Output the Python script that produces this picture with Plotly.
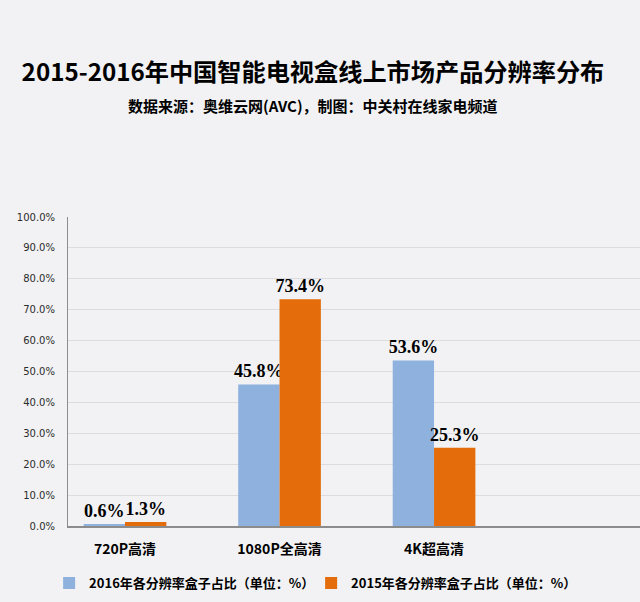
import plotly.graph_objects as go

categories = ["720P高清", "1080P全高清", "4K超高清"]
series_2016 = [0.6, 45.8, 53.6]
series_2015 = [1.3, 73.4, 25.3]
name_2016 = "2016年各分辨率盒子占比（单位：%）"
name_2015 = "2015年各分辨率盒子占比（单位：%）"
y_ticks = [0, 10, 20, 30, 40, 50, 60, 70, 80, 90, 100]
title = "2015-2016年中国智能电视盒线上市场产品分辨率分布"
subtitle = "数据来源：奥维云网(AVC)，制图：中关村在线家电频道"

xpos = list(range(len(categories)))
CJK = "Noto Sans CJK SC"
label_font = dict(family="Liberation Serif", size=18, color="#000000", weight="bold")

fig = go.Figure()
fig.add_trace(go.Bar(
    x=xpos, y=series_2016, name=name_2016,
    marker=dict(color="#8EB1DD", line=dict(width=0)),
    text=[f"{v:.1f}%" for v in series_2016], textposition="outside",
    textfont=label_font, cliponaxis=False, constraintext="none",
))
fig.add_trace(go.Bar(
    x=xpos, y=series_2015, name=name_2015,
    marker=dict(color="#E46C0A", line=dict(width=0)),
    text=[f"{v:.1f}%" for v in series_2015], textposition="outside",
    textfont=label_font, cliponaxis=False, constraintext="none",
))

fig.update_layout(
    width=640, height=602,
    margin=dict(l=68, r=0, t=217, b=76, autoexpand=False),
    paper_bgcolor="#F2F2F4", plot_bgcolor="#F2F2F4",
    barmode="group", bargap=0.465, bargroupgap=0,
    title=dict(
        text=f"<b>{title}</b>", xref="container", x=0.489, xanchor="center",
        yref="container", y=1 - 73 / 602, yanchor="middle",
        font=dict(family=CJK, size=24.2, color="#000000"),
    ),
    showlegend=True,
    legend=dict(
        orientation="h", x=-0.033, xanchor="left", y=-0.185, yanchor="middle",
        font=dict(family=CJK, size=13, color="#000000", weight="bold"),
        entrywidth=217, entrywidthmode="pixels",
        bgcolor="rgba(0,0,0,0)", itemwidth=30, traceorder="normal",
    ),
    annotations=[dict(
        text=f"<b>{subtitle}</b>", xref="paper", yref="paper",
        x=(313 - 68) / 572, y=(526 - 105) / 309, xanchor="center", yanchor="middle",
        showarrow=False, font=dict(family=CJK, size=15, color="#000000"),
    )],
)

fig.update_xaxes(
    range=[-0.369, 3.333], tickvals=xpos, ticktext=categories,
    showgrid=False, zeroline=False, showline=True, linecolor="#8C8C8C", linewidth=2,
    ticks="", ticklabelstandoff=9,
    tickfont=dict(family=CJK, size=14, color="#000000", weight="bold"),
    fixedrange=True,
)
fig.update_yaxes(
    range=[0, 100], tickvals=y_ticks, ticktext=[f"{v:.1f}%" for v in y_ticks],
    showgrid=True, gridcolor="#DCDCDE", gridwidth=1,
    zeroline=False, showline=True, linecolor="#8C8C8C", linewidth=1,
    ticks="", ticklabelstandoff=10,
    tickfont=dict(family="DejaVu Sans", size=10, color="#2B2B2B"),
    fixedrange=True,
)

fig.write_html("out.html")
